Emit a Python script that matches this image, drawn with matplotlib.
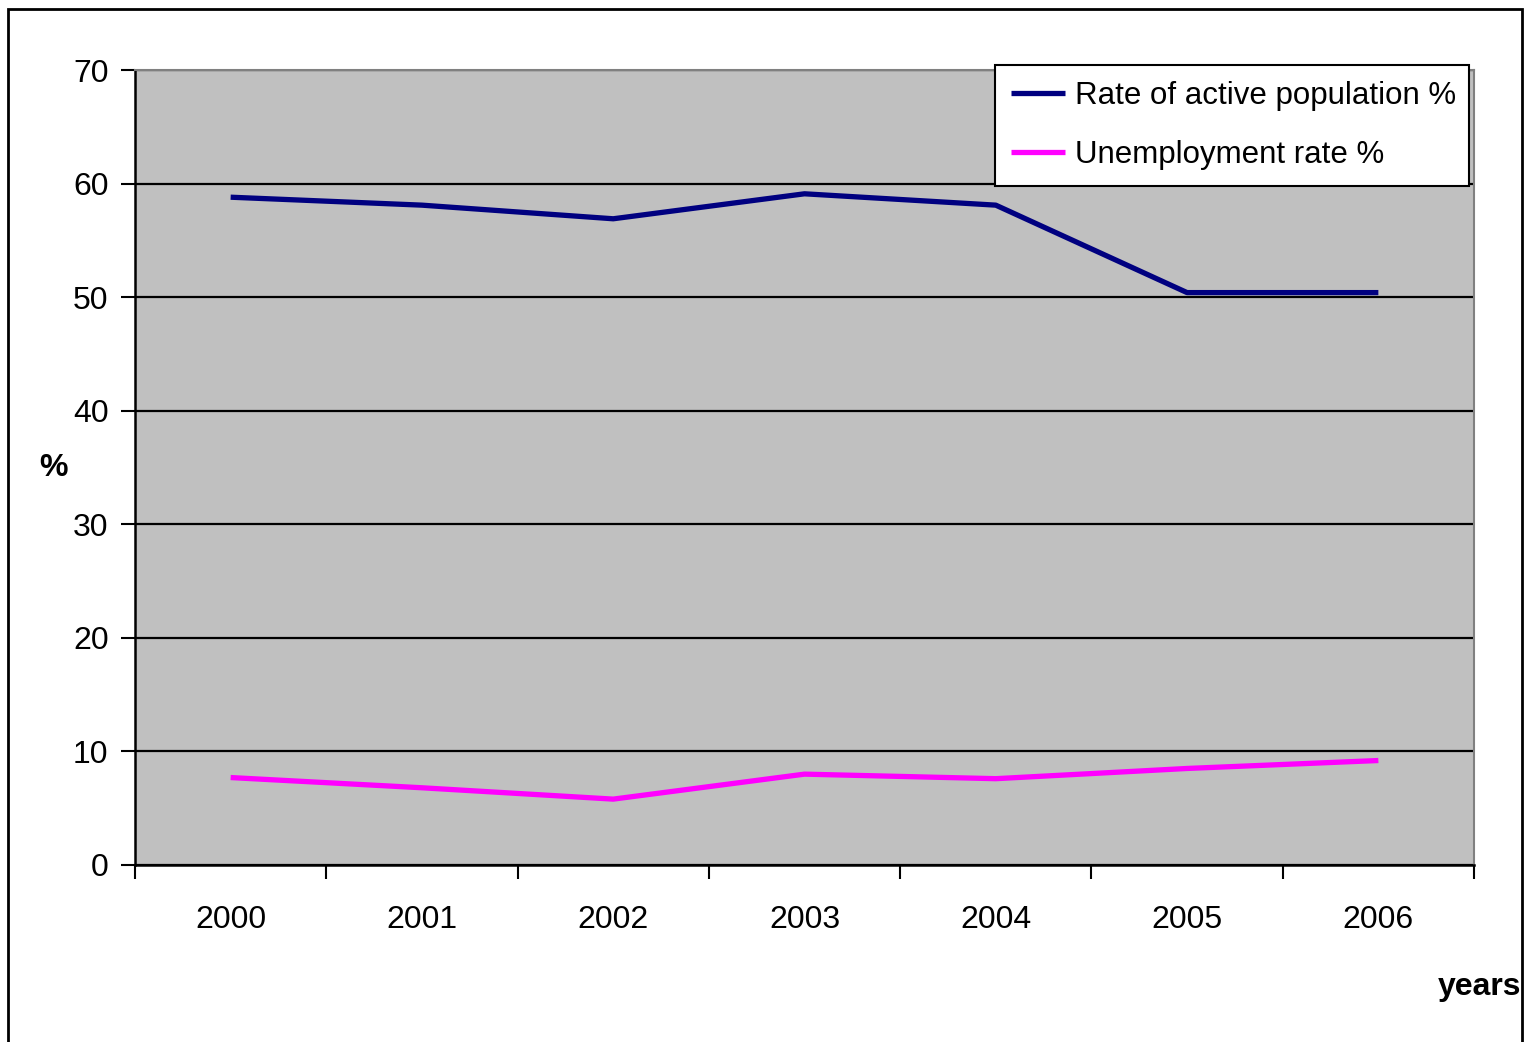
import matplotlib.pyplot as plt
from matplotlib.patches import Rectangle

plt.rcParams['font.family'] = ['Liberation Sans', 'DejaVu Sans']

years = ['2000', '2001', '2002', '2003', '2004', '2005', '2006']
active_rate = [58.8, 58.1, 56.9, 59.1, 58.1, 50.4, 50.4]
unemployment = [7.7, 6.8, 5.8, 8.0, 7.6, 8.5, 9.2]

fig = plt.figure(figsize=(15.25, 10.42), dpi=100)
ax = fig.add_axes([135 / 1525, 1 - 865 / 1042, (1474 - 135) / 1525, (865 - 70) / 1042])
ax.set_facecolor('#c0c0c0')

# outer chart border (bottom edge runs off the image)
fig.patches.append(Rectangle((8 / 1525, -0.05), (1522 - 8) / 1525, 1.05 - 9 / 1042,
                             transform=fig.transFigure, fill=False,
                             edgecolor='black', linewidth=2))

x = list(range(len(years)))
ax.plot(x, active_rate, color='#000080', linewidth=3.8, label='Rate of active population %',
        solid_capstyle='butt', zorder=3)
ax.plot(x, unemployment, color='#ff00ff', linewidth=3.8, label='Unemployment rate %',
        solid_capstyle='butt', zorder=3)

ax.set_xlim(-0.5, len(years) - 0.5)
ax.set_ylim(0, 70)
ax.set_yticks(range(0, 71, 10))
ax.yaxis.grid(True, color='black', linewidth=1.6)
ax.set_axisbelow(True)

fs = 23
ax.set_xticks(x)
ax.set_xticklabels(years)
ax.set_xticks([i - 0.5 for i in range(len(years) + 1)], minor=True)
ax.tick_params(axis='x', which='major', length=0, pad=29, labelsize=fs)
ax.tick_params(axis='x', which='minor', length=10, width=1.5, direction='out')
ax.tick_params(axis='y', length=10, width=1.5, pad=9, labelsize=fs)

for side in ['top', 'right']:
    ax.spines[side].set_color('#808080')
    ax.spines[side].set_linewidth(1.5)
for side in ['left', 'bottom']:
    ax.spines[side].set_color('black')
    ax.spines[side].set_linewidth(1.8)

fig.text(54 / 1525, 1 - 468 / 1042, '%', fontsize=fs, fontweight='bold', ha='center', va='center')
fig.text(1480 / 1525, 1 - 987 / 1042, 'years', fontsize=fs, fontweight='bold', ha='center', va='center')

leg = ax.legend(loc='upper right', bbox_to_anchor=(995 / 1525, 1 - 188 / 1042, (1469 - 995) / 1525, (188 - 65) / 1042),
                bbox_transform=fig.transFigure, mode='expand', fontsize=22.5, frameon=True, fancybox=False,
                edgecolor='black', framealpha=1, handlelength=1.75, handletextpad=0.3,
                borderpad=0.5, labelspacing=0.95, borderaxespad=0)
leg.get_frame().set_linewidth(1.5)

fig.savefig('out.png', dpi=100)
